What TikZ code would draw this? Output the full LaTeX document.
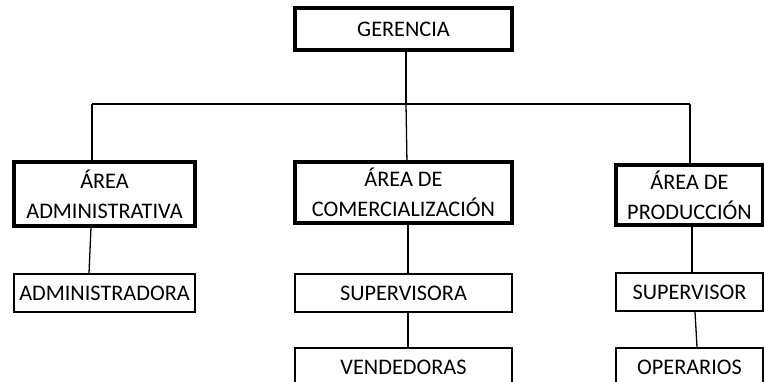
\documentclass[tikz,border=0pt]{standalone}
\usepackage{fontspec}
\setmainfont{Carlito}
\tikzset{
  org/.style={draw, line width=1.5pt, fill=white, align=center, inner sep=0pt,
    font=\fontsize{19}{25.6}\selectfont},
  areabox/.style={org, line width=2.6pt},
  link/.style={line width=1.1pt},
}

\begin{document}
\begin{tikzpicture}[x=0.03cm, y=-0.03cm]
        \useasboundingbox (0,0) rectangle (764,381);
        \clip (0,0) rectangle (764,381);

        % bus between the three areas
        \coordinate (busL) at (92,104);
        \coordinate (busR) at (690,104);
        \coordinate (busM) at (406,104);

        \draw[link] (busL) -- (busR);
        \draw[link] (406,50) -- (busM);
        \draw[link] (busL) -- (92,164);
        \draw[link] (busM) -- (407,164);
        \draw[link] (busR) -- (690,166);

        \node[areabox, minimum width=6.51cm, minimum height=1.26cm] (ger) at (403.5,29) {GERENCIA};

        \node[areabox, minimum width=5.43cm, minimum height=1.92cm] (admin) at (104.5,194) {ÁREA\\ADMINISTRATIVA};
        \node[areabox, minimum width=6.51cm, minimum height=1.83cm] (comer) at (403.5,192.5) {ÁREA DE\\COMERCIALIZACIÓN};
        \node[areabox, minimum width=4.41cm, minimum height=1.8cm] (prod) at (689.5,195) {ÁREA DE\\PRODUCCIÓN};

        \node[org, minimum width=5.43cm, minimum height=1.14cm] (admdora) at (104.5,293) {ADMINISTRADORA};
        \node[org, minimum width=6.51cm, minimum height=1.14cm] (supa) at (403.5,293) {SUPERVISORA};
        \node[org, minimum width=6.51cm, minimum height=1.14cm] (vend) at (403.5,367) {VENDEDORAS};
        \node[org, minimum width=4.41cm, minimum height=1.14cm] (supo) at (689.5,292) {SUPERVISOR};
        \node[org, minimum width=4.41cm, minimum height=1.14cm] (oper) at (689.5,367) {OPERARIOS};

        \draw[link] (admin.south -| busL) ++(-1,0) -- (admdora.north -| 89,0);
        \draw[link] (comer.south -| 408,0) -- (supa.north -| 408,0);
        \draw[link] (supa.south -| 408,0) -- (vend.north -| 408,0);
        \draw[link] (prod.south -| busR) ++(2,0) -- (supo.north -| 692,0);
        \draw[link] (supo.south -| 695,0) -- (oper.north -| 697,0);
\end{tikzpicture}
\end{document}
